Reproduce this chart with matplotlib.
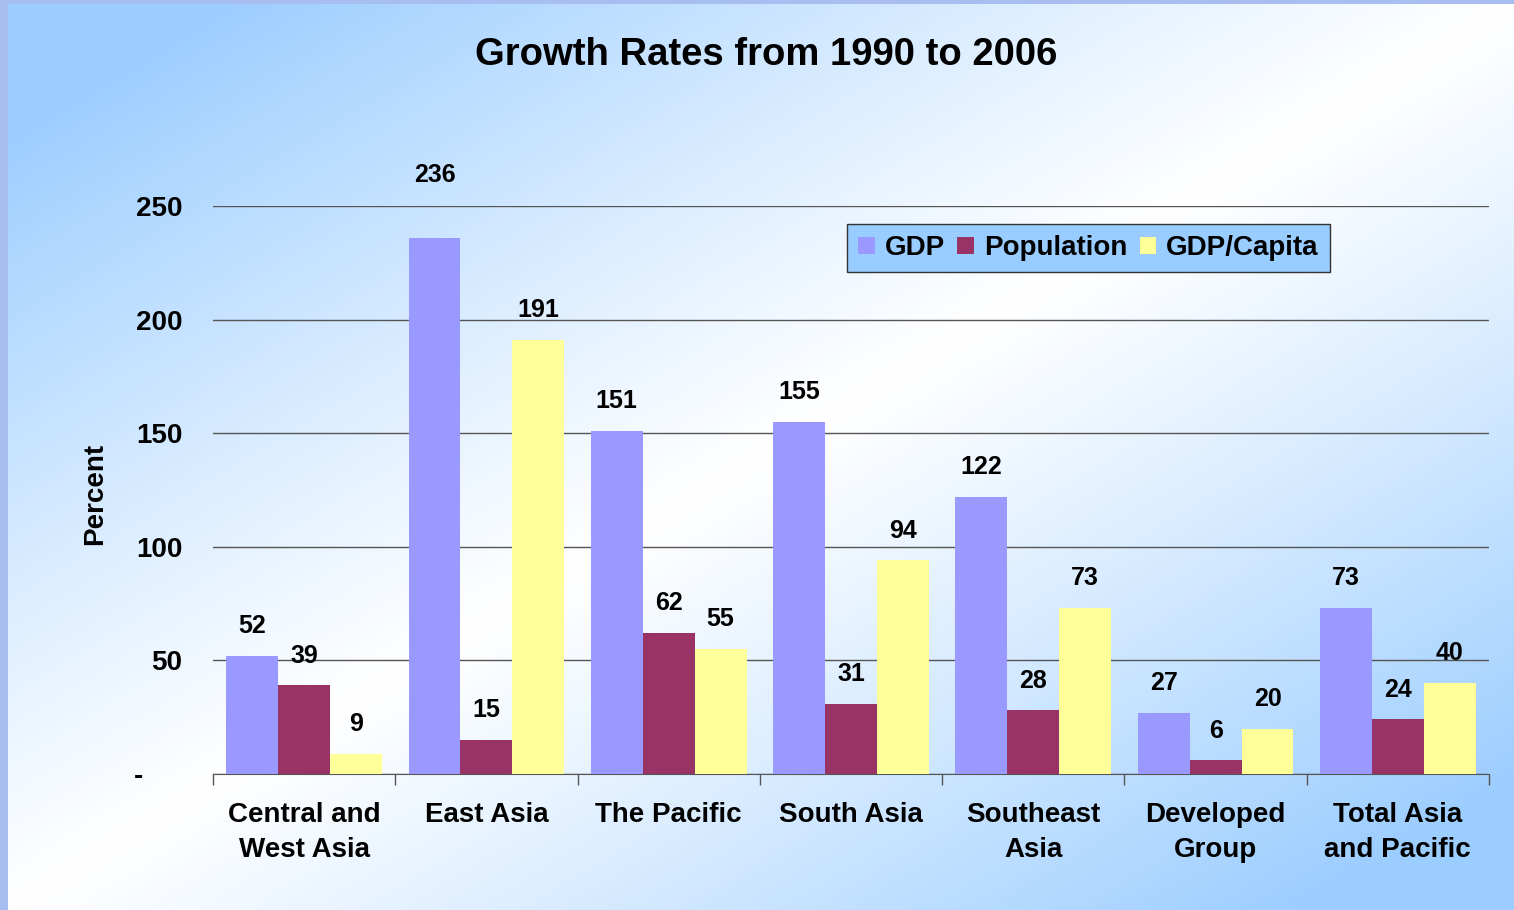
import numpy as np
import matplotlib
matplotlib.use("Agg")
import matplotlib.pyplot as plt

plt.rcParams['font.family'] = ['Liberation Sans', 'DejaVu Sans']
plt.rcParams['font.weight'] = 'bold'

regions = ["Central and\nWest Asia", "East Asia", "The Pacific", "South Asia",
           "Southeast\nAsia", "Developed\nGroup", "Total Asia\nand Pacific"]
gdp = [52, 236, 151, 155, 122, 27, 73]
population = [39, 15, 62, 31, 28, 6, 24]
gdp_capita = [9, 191, 55, 94, 73, 20, 40]
yticks = [0, 50, 100, 150, 200, 250]
ytick_labels = ["-     ", "50", "100", "150", "200", "250"]

W, H = 1514, 910
fig = plt.figure(figsize=(W / 100, H / 100), dpi=100)
fig.patch.set_facecolor('#A8BDF0')

# diagonal gradient background: blue -> white -> blue
bg = fig.add_axes([8 / W, 0, 1 - 8 / W, 1 - 4 / H])
yy, xx = np.mgrid[0:1:300j, 0:1:500j]
t = np.abs(xx + yy - 1.0)
t = np.clip(t * 1.15, 0, 1) ** 1.1
blue = np.array([155, 205, 255]) / 255
white = np.array([1.0, 1.0, 1.0])
img = white + (blue - white) * t[..., None]
bg.imshow(img, aspect='auto', extent=[0, 1, 0, 1], origin='upper')
bg.axis('off')

ax = fig.add_axes([213 / W, 1 - 774 / H, (1489 - 213) / W, (774 - 206) / H])
ax.patch.set_alpha(0)

x = np.arange(len(regions))
w = 0.285
series = [(gdp, '#9999FF', 'GDP'), (population, '#993366', 'Population'),
          (gdp_capita, '#FFFF99', 'GDP/Capita')]
for i, (vals, col, name) in enumerate(series):
    pos = x + (i - 1) * w
    ax.bar(pos, vals, width=w, color=col, label=name, zorder=3)
    for px_, v in zip(pos, vals):
        off = 45 if v > 230 else 21.5
        ax.annotate(str(v), (px_, v), xytext=(0, off), textcoords='offset points',
                    ha='center', va='center', fontsize=18, fontweight='bold')

ax.set_xlim(-0.5, len(regions) - 0.5)
ax.set_ylim(0, 250)
ax.set_yticks(yticks)
ax.set_yticklabels(ytick_labels)
ax.tick_params(axis='y', length=0, pad=22, labelsize=20)
ax.grid(axis='y', color='#555555', linewidth=1, zorder=0)

ax.set_xticks(x)
ax.set_xticklabels(regions, fontsize=20, fontweight='bold', linespacing=1.45)
ax.tick_params(axis='x', which='major', length=0, pad=20)
ax.set_xticks(np.arange(len(regions) + 1) - 0.5, minor=True)
ax.tick_params(axis='x', which='minor', length=8, color='#555555', width=1)

for s in ['left', 'right', 'top']:
    ax.spines[s].set_visible(False)
ax.spines['bottom'].set_color('#555555')

leg = ax.legend(loc='upper left', bbox_to_anchor=(0.497, 0.968), ncol=3,
                fontsize=20, frameon=True, fancybox=False, facecolor='#99CCFF',
                edgecolor='#333333', framealpha=1, handlelength=0.6,
                handleheight=0.6, handletextpad=0.35, columnspacing=0.45,
                borderpad=0.4, borderaxespad=0)
leg.get_frame().set_linewidth(1)

fig.text(766 / W, 1 - 55 / H, "Growth Rates from 1990 to 2006", ha='center',
         va='center', fontsize=27.5, fontweight='bold')
fig.text(95 / W, 1 - 494 / H, "Percent", rotation=90, ha='center', va='center',
         fontsize=20, fontweight='bold')

fig.savefig('out.png', dpi=100)
